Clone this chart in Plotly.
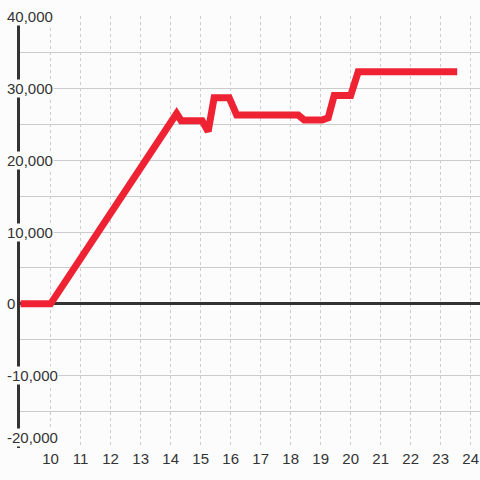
import plotly.graph_objects as go

# Data
x_vals = [9, 10, 14.2, 14.35, 15.05, 15.25, 15.45, 15.95, 16.2, 18.25, 18.45, 19.05, 19.25, 19.45, 20.0, 20.25, 23.55]
y_vals = [0, 0, 26500, 25500, 25500, 24000, 28700, 28700, 26300, 26300, 25600, 25600, 25900, 29000, 29000, 32300, 32300]

x_ticks = list(range(10, 25))
y_label_vals = [-20000, -10000, 0, 10000, 20000, 30000, 40000]
y_label_text = ["-20,000", "-10,000", "0", "10,000", "20,000", "30,000", "40,000"]

BG = "#fcfcfc"
TXT = "#333333"
FONT = "Liberation Sans, Arial, sans-serif"

fig = go.Figure()
fig.add_trace(go.Scatter(
    x=x_vals, y=y_vals, mode="lines",
    line=dict(color="#ee2233", width=7),
    hoverinfo="skip", showlegend=False,
))

annotations = []
for v, t in zip(y_label_vals, y_label_text):
    annotations.append(dict(
        x=-0.031, xref="paper", y=v, yref="y", text=t, showarrow=False,
        xanchor="left",
        yanchor="bottom" if v == min(y_label_vals) else "middle",
        font=dict(family=FONT, size=15, color=TXT),
        bgcolor=BG, borderpad=0,
    ))

fig.update_layout(
    width=480, height=480,
    margin=dict(l=20, r=0, t=16, b=32, autoexpand=False),
    paper_bgcolor=BG, plot_bgcolor=BG,
    showlegend=False,
    annotations=annotations,
    xaxis=dict(
        range=[8.98, 24.31],
        tickmode="array",
        tickvals=x_ticks,
        ticktext=[str(t) for t in x_ticks],
        showgrid=True, gridcolor="#cccccc", gridwidth=1, griddash="3px,3px",
        minor=dict(showgrid=False),
        zeroline=False, showline=False, ticks="",
        tickfont=dict(family=FONT, size=15, color=TXT),
        automargin=False,
    ),
    yaxis=dict(
        range=[-20080, 40080],
        dtick=5000, tick0=0,
        showticklabels=False,
        showgrid=True, gridcolor="#cccccc", gridwidth=1,
        zeroline=True, zerolinecolor="#333333", zerolinewidth=3,
        showline=True, linecolor="#333333", linewidth=3,
        ticks="", layer="below traces",
        automargin=False,
    ),
)

fig.write_html(
    "out.html",
    config={"displayModeBar": False, "staticPlot": True},
    post_script="document.body.style.margin='0';document.body.style.background='#fcfcfc';document.documentElement.style.overflow='hidden';",
)
